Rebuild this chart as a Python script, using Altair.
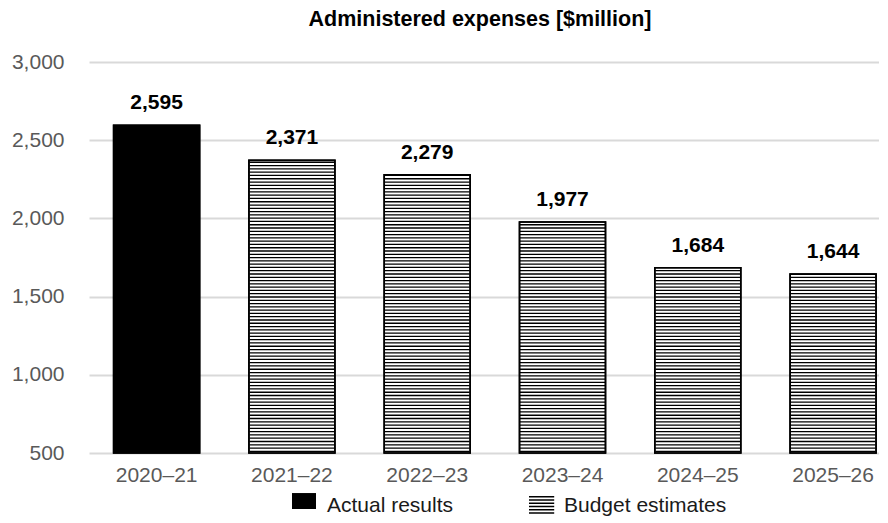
import altair as alt
import pandas as pd

# ---- data ----
years = ["2020–21", "2021–22", "2022–23", "2023–24", "2024–25", "2025–26"]
values = [2595, 2371, 2279, 1977, 1684, 1644]
kinds = ["Actual results", "Budget estimates", "Budget estimates",
         "Budget estimates", "Budget estimates", "Budget estimates"]
y_ticks = [500, 1000, 1500, 2000, 2500, 3000]
legend_items = ["Actual results", "Budget estimates"]

FONT = "Liberation Sans"
BASE = 500
STRIPE_STEP = 21  # spacing of the hatch pattern, in value units

df = pd.DataFrame({"year": years, "value": values, "kind": kinds})
df["label"] = df["value"].map(lambda v: f"{v:,}")

# hatch pattern rows inside the budget-estimate bars
rows = []
for yr, v, k in zip(years, values, kinds):
    if k == "Budget estimates":
        s = BASE + STRIPE_STEP / 2
        while s < v - 4:
            rows.append({"year": yr, "s": s})
            s += STRIPE_STEP
stripes = pd.DataFrame(rows)

legend_df = pd.DataFrame({"entry": legend_items, "year": [years[0], years[1]], "value": [values[0], values[1]]})

# legend symbol shapes (unit space, 1 unit = 12 px)
square_path = "M-1,-1.08H1V0.25H-1Z"
stripe_path = " ".join(
    f"M-1,{-0.83 + i * 0.27:.2f}H1.1V{-0.83 + i * 0.27 + 0.13:.2f}H-1Z" for i in range(6)
)

x_enc = alt.X(
    "year:N",
    sort=years,
    scale=alt.Scale(domain=years, paddingInner=0.3645, paddingOuter=0.1018, align=0.894),
    axis=alt.Axis(
        title=None, labelAngle=0, labelFontSize=21, labelColor="#595959", labelFont=FONT,
        ticks=False, tickSize=0, domain=False, labelPadding=11, grid=False,
    ),
)
y_scale = alt.Scale(domain=[500, 3000], nice=False, zero=False)
y_axis = alt.Axis(
    title=None, values=y_ticks, format=",.0f", labelFontSize=21, labelColor="#595959",
    labelFont=FONT, ticks=False, tickSize=0, domain=False, labelPadding=25,
    grid=True, gridColor="#d9d9d9", gridWidth=2,
)

base = alt.Chart(df)

bars = base.mark_bar(stroke="black", strokeWidth=1.6).encode(
    x=x_enc,
    y=alt.Y("value:Q", scale=y_scale, axis=y_axis),
    y2=alt.datum(BASE),
    fill=alt.condition(alt.datum.kind == "Actual results", alt.value("black"), alt.value("white")),
)

hatch = alt.Chart(stripes).mark_tick(color="black", thickness=1.3, size=85, opacity=1).encode(
    x=alt.X("year:N", sort=years),
    y=alt.Y("s:Q"),
)

outline = base.mark_bar(fill=None, stroke="black", strokeWidth=1.6, filled=False).encode(
    x=alt.X("year:N", sort=years),
    y=alt.Y("value:Q"),
    y2=alt.datum(BASE),
)

labels = base.mark_text(
    dy=-16, baseline="alphabetic", fontSize=21, fontWeight="bold", font=FONT, color="black"
).encode(
    x=alt.X("year:N", sort=years),
    y=alt.Y("value:Q"),
    text="label:N",
)

legend_layer = alt.Chart(legend_df).mark_point(filled=True, color="black", opacity=0).encode(
    x=alt.X("year:N", sort=years),
    y=alt.Y("value:Q"),
    shape=alt.Shape(
        "entry:N",
        scale=alt.Scale(domain=legend_items, range=[square_path, stripe_path]),
        legend=alt.Legend(
            title=None, orient="none", direction="horizontal", legendX=203, legendY=432,
            symbolSize=576, symbolFillColor="black", symbolStrokeColor="black",
            symbolStrokeWidth=0, symbolOpacity=1, labelFontSize=21, labelFont=FONT,
            labelColor="#1a1a1a", labelOffset=11, columnPadding=75, labelLimit=400,
        ),
    ),
)

chart = alt.layer(bars, hatch, outline, labels, legend_layer).properties(
    width=790,
    height=391,
    padding={"left": 3, "top": 0, "right": 0, "bottom": 0},
    title=alt.TitleParams(
        "Administered expenses [$million]", fontSize=21.5, fontWeight="bold", font=FONT,
        color="black", offset=19, anchor="middle", dx=-4, dy=-2,
    ),
).configure_view(stroke=None)

chart.save("out.html", embed_options={"renderer": "svg", "actions": False})
